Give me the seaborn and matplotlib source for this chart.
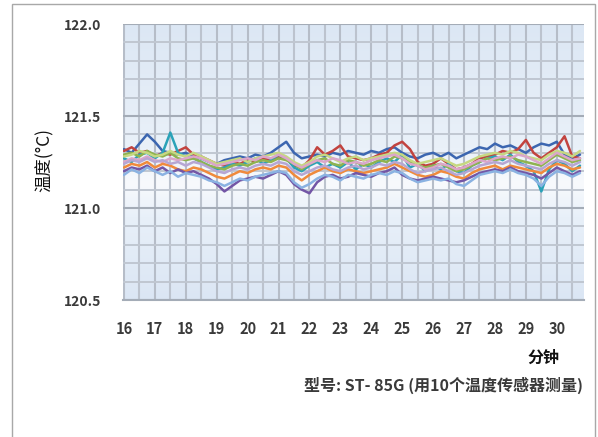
import numpy as np
import pandas as pd
import matplotlib
matplotlib.use("Agg")
import matplotlib.pyplot as plt
import seaborn as sns
from matplotlib.ticker import MultipleLocator, FixedLocator
from matplotlib.colors import LinearSegmentedColormap
from matplotlib.patches import Rectangle

# ---------------- data ----------------
minutes = np.linspace(16.0, 30.75, 60)

s1 = [121.32, 121.30, 121.35, 121.40, 121.36, 121.31, 121.30, 121.29, 121.30, 121.28,
      121.27, 121.25, 121.24, 121.26, 121.27, 121.28, 121.27, 121.29, 121.28, 121.30,
      121.33, 121.36, 121.30, 121.27, 121.28, 121.29, 121.28, 121.30, 121.29, 121.31,
      121.30, 121.29, 121.31, 121.30, 121.32, 121.33, 121.30, 121.28, 121.27, 121.29,
      121.30, 121.28, 121.30, 121.27, 121.29, 121.31, 121.33, 121.32, 121.35, 121.33,
      121.34, 121.32, 121.30, 121.33, 121.35, 121.34, 121.36, 121.29, 121.27, 121.29]
s2 = [121.31, 121.33, 121.30, 121.31, 121.28, 121.30, 121.29, 121.31, 121.33, 121.29,
      121.28, 121.26, 121.24, 121.23, 121.25, 121.24, 121.26, 121.25, 121.27, 121.26,
      121.28, 121.27, 121.23, 121.22, 121.26, 121.33, 121.29, 121.31, 121.34, 121.28,
      121.27, 121.26, 121.27, 121.29, 121.30, 121.34, 121.36, 121.32, 121.25, 121.23,
      121.24, 121.27, 121.24, 121.21, 121.22, 121.24, 121.27, 121.28, 121.29, 121.31,
      121.30, 121.32, 121.37, 121.30, 121.27, 121.30, 121.33, 121.39, 121.28, 121.27]
s3 = [121.27, 121.25, 121.29, 121.30, 121.27, 121.30, 121.41, 121.30, 121.28, 121.27,
      121.25, 121.23, 121.21, 121.22, 121.24, 121.23, 121.25, 121.27, 121.24, 121.26,
      121.29, 121.27, 121.22, 121.20, 121.23, 121.25, 121.22, 121.24, 121.22, 121.25,
      121.21, 121.24, 121.22, 121.25, 121.27, 121.25, 121.29, 121.22, 121.24, 121.20,
      121.23, 121.21, 121.24, 121.20, 121.19, 121.23, 121.25, 121.27, 121.28, 121.26,
      121.29, 121.25, 121.23, 121.20, 121.09, 121.21, 121.26, 121.24, 121.20, 121.23]
s4 = [121.29, 121.30, 121.28, 121.31, 121.29, 121.28, 121.30, 121.27, 121.26, 121.27,
      121.25, 121.23, 121.22, 121.21, 121.23, 121.24, 121.23, 121.25, 121.26, 121.25,
      121.27, 121.26, 121.24, 121.21, 121.24, 121.26, 121.27, 121.24, 121.23, 121.26,
      121.25, 121.23, 121.24, 121.26, 121.25, 121.28, 121.27, 121.25, 121.23, 121.22,
      121.23, 121.24, 121.22, 121.20, 121.21, 121.23, 121.25, 121.27, 121.26, 121.27,
      121.28, 121.26, 121.25, 121.24, 121.23, 121.26, 121.29, 121.27, 121.25, 121.26]
s5 = [121.28, 121.29, 121.31, 121.30, 121.28, 121.29, 121.31, 121.29, 121.28, 121.30,
      121.28, 121.26, 121.24, 121.25, 121.26, 121.27, 121.25, 121.27, 121.28, 121.29,
      121.30, 121.28, 121.25, 121.23, 121.25, 121.28, 121.29, 121.27, 121.25, 121.27,
      121.28, 121.26, 121.27, 121.28, 121.29, 121.30, 121.29, 121.26, 121.24, 121.25,
      121.26, 121.27, 121.25, 121.23, 121.24, 121.26, 121.28, 121.29, 121.30, 121.29,
      121.31, 121.30, 121.28, 121.27, 121.26, 121.29, 121.31, 121.30, 121.28, 121.31]
s6 = [121.25, 121.27, 121.26, 121.28, 121.26, 121.25, 121.27, 121.26, 121.27, 121.28,
      121.27, 121.25, 121.23, 121.24, 121.25, 121.26, 121.27, 121.26, 121.28, 121.27,
      121.29, 121.27, 121.24, 121.22, 121.24, 121.26, 121.25, 121.27, 121.26, 121.24,
      121.25, 121.24, 121.26, 121.27, 121.28, 121.29, 121.27, 121.24, 121.23, 121.21,
      121.22, 121.24, 121.23, 121.21, 121.22, 121.24, 121.26, 121.25, 121.27, 121.28,
      121.27, 121.29, 121.28, 121.26, 121.24, 121.27, 121.30, 121.28, 121.26, 121.27]
s7 = [121.22, 121.24, 121.23, 121.25, 121.22, 121.24, 121.23, 121.21, 121.20, 121.22,
      121.21, 121.19, 121.17, 121.16, 121.18, 121.20, 121.19, 121.21, 121.22, 121.21,
      121.23, 121.22, 121.18, 121.15, 121.18, 121.20, 121.22, 121.20, 121.19, 121.21,
      121.20, 121.19, 121.20, 121.21, 121.22, 121.24, 121.22, 121.20, 121.18, 121.17,
      121.18, 121.20, 121.19, 121.17, 121.16, 121.19, 121.21, 121.22, 121.23, 121.21,
      121.23, 121.22, 121.21, 121.20, 121.19, 121.22, 121.24, 121.23, 121.21, 121.22]
s8 = [121.20, 121.22, 121.21, 121.23, 121.20, 121.22, 121.19, 121.21, 121.19, 121.20,
      121.18, 121.16, 121.13, 121.09, 121.12, 121.15, 121.16, 121.17, 121.16, 121.18,
      121.20, 121.18, 121.13, 121.10, 121.08, 121.14, 121.17, 121.18, 121.16, 121.17,
      121.19, 121.18, 121.17, 121.19, 121.20, 121.22, 121.18, 121.16, 121.15, 121.16,
      121.17, 121.16, 121.15, 121.14, 121.15, 121.17, 121.19, 121.20, 121.21, 121.20,
      121.22, 121.20, 121.19, 121.18, 121.16, 121.19, 121.22, 121.20, 121.18, 121.20]
s9 = [121.18, 121.21, 121.19, 121.22, 121.20, 121.18, 121.20, 121.17, 121.19, 121.18,
      121.17, 121.15, 121.14, 121.12, 121.14, 121.16, 121.15, 121.17, 121.18, 121.19,
      121.20, 121.19, 121.14, 121.11, 121.13, 121.16, 121.18, 121.17, 121.15, 121.18,
      121.17, 121.16, 121.18, 121.19, 121.18, 121.20, 121.19, 121.16, 121.14, 121.15,
      121.16, 121.15, 121.16, 121.13, 121.12, 121.15, 121.18, 121.19, 121.20, 121.19,
      121.21, 121.19, 121.18, 121.16, 121.12, 121.17, 121.20, 121.19, 121.17, 121.19]
s10 = [121.24, 121.26, 121.25, 121.27, 121.25, 121.26, 121.24, 121.25, 121.23, 121.25,
       121.24, 121.22, 121.20, 121.19, 121.21, 121.22, 121.21, 121.23, 121.24, 121.23,
       121.25, 121.24, 121.20, 121.18, 121.20, 121.22, 121.23, 121.21, 121.20, 121.22,
       121.23, 121.21, 121.22, 121.24, 121.23, 121.25, 121.24, 121.21, 121.19, 121.20,
       121.21, 121.22, 121.20, 121.18, 121.19, 121.21, 121.23, 121.24, 121.25, 121.24,
       121.26, 121.24, 121.23, 121.22, 121.21, 121.24, 121.26, 121.25, 121.23, 121.25]

sensor_names = ["T1", "T2", "T3", "T4", "T5", "T6", "T7", "T8", "T9", "T10"]
series = [s1, s2, s3, s4, s5, s6, s7, s8, s9, s10]
colors = ["#3c66b0", "#c2433f", "#2aa2b8", "#8fb34f", "#c6d882",
          "#dba6c9", "#f08a3c", "#7356a6", "#8ab2e2", "#b6a6d3"]

y_ticks = [120.5, 121.0, 121.5, 122.0]
y_tick_labels = ["120.5", "121.0", "121.5", "122.0"]
x_ticks = list(range(16, 31))
x_tick_labels = [str(v) for v in x_ticks]

df = pd.concat([pd.DataFrame({"minute": minutes, "temp": s, "sensor": n})
                for s, n in zip(series, sensor_names)], ignore_index=True)

# ---------------- figure ----------------
sns.set_theme(style="white")
plt.rcParams["font.family"] = ["Noto Sans CJK SC", "DejaVu Sans"]

W, H = 598, 437
fig = plt.figure(figsize=(W / 100, H / 100), dpi=100)
fig.patch.set_facecolor("white")

# outer frame
fig.patches.append(Rectangle((12 / W, -0.05), (595 - 12) / W, 1.05 - 4 / H,
                             transform=fig.transFigure, fill=False,
                             edgecolor="#a8a8a8", lw=1.0, zorder=0))

L, R, T, B = 123, 584, 24, 300
ax = fig.add_axes([L / W, 1 - B / H, (R - L) / W, (B - T) / H])

xmin, xmax = 15.97, 30.88
ymin, ymax = 120.5, 122.0

# background gradient
cmap = LinearSegmentedColormap.from_list(
    "bg", [(0.0, "#dbe6f4"), (0.30, "#e8f0f9"), (0.42, "#f8fafd"),
           (0.55, "#eaf1f9"), (1.0, "#dce7f4")])
grad = np.linspace(0, 1, 256).reshape(-1, 1)
ax.imshow(grad, extent=[xmin, xmax, ymin, ymax], origin="lower",
          aspect="auto", cmap=cmap, zorder=0, interpolation="bilinear")

sns.lineplot(data=df, x="minute", y="temp", hue="sensor", palette=colors,
             estimator=None, linewidth=1.8, legend=False, ax=ax, zorder=3)

ax.set_xlim(xmin, xmax)
ax.set_ylim(ymin, ymax)

ax.xaxis.set_major_locator(FixedLocator(x_ticks))
ax.xaxis.set_minor_locator(MultipleLocator(0.5))
ax.yaxis.set_major_locator(FixedLocator(y_ticks))
ax.yaxis.set_minor_locator(MultipleLocator(0.1))
ax.set_xticklabels(x_tick_labels)
ax.set_yticklabels(y_tick_labels)

ax.grid(which="minor", axis="x", color="#bcc3ce", lw=1.5, zorder=1)
ax.grid(which="major", axis="x", color="#b6bdc8", lw=1.5, zorder=1)
ax.grid(which="minor", axis="y", color="#c0c7d1", lw=1.4, zorder=1)
ax.grid(which="major", axis="y", color="#a4acb7", lw=1.5, zorder=1)
ax.set_axisbelow(True)

for side in ["top", "right", "left"]:
    ax.spines[side].set_visible(False)
ax.spines["bottom"].set_color("#a4acb7")
ax.spines["bottom"].set_linewidth(1.5)

ax.tick_params(axis="x", which="major", direction="out", length=6, width=1,
               color="#a4acb7", pad=9, labelsize=10.5, labelcolor="#3a3a3a")
ax.tick_params(axis="y", which="major", direction="out", length=7, width=1,
               color="#a4acb7", pad=9, labelsize=10, labelcolor="#3a3a3a")
ax.tick_params(which="minor", length=0)
for lab in ax.get_xticklabels() + ax.get_yticklabels():
    lab.set_fontweight("semibold")

ax.set_xlabel("")
ax.set_ylabel("")

fig.text(45 / W, 1 - 160 / H, "温度(°C)", rotation=90, ha="center", va="center",
         fontsize=12.5, color="#111111")
fig.text(543 / W, 1 - 358 / H, "分钟", ha="center", va="center",
         fontsize=11.5, fontweight="bold", color="#111111")
fig.text(583 / W, 1 - 385 / H, "型号: ST- 85G (用10个温度传感器测量)",
         ha="right", va="center", fontsize=11.5, fontweight="bold",
         color="#3a3a3a")

fig.savefig("out.png", dpi=100)
